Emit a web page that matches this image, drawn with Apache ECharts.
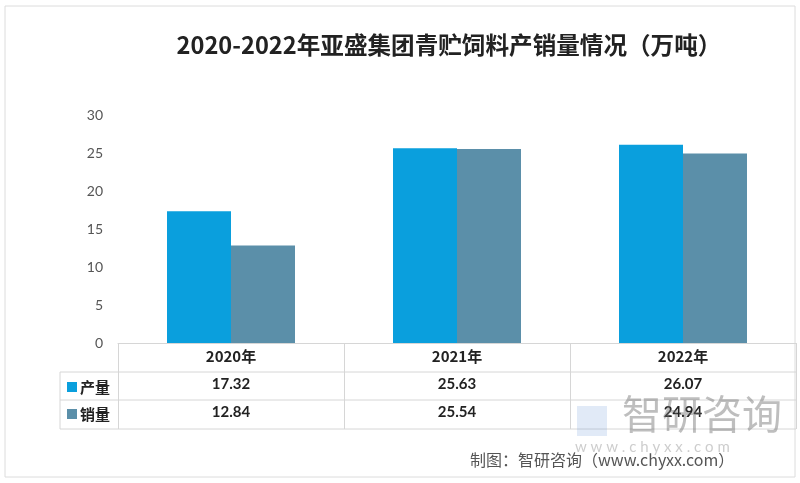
<!DOCTYPE html>
<html>
<head>
<meta charset="utf-8">
<script src="https://cdn.jsdelivr.net/npm/echarts@6/dist/echarts.min.js"></script>
<style>
  html, body { margin: 0; padding: 0; background: #fff; }
  #chart { width: 800px; height: 483px; }
</style>
</head>
<body>
<div id="chart"></div>
<script>
const years = ['2020年', '2021年', '2022年']
const output = [17.32, 25.63, 26.07]
const sales = [12.84, 25.54, 24.94]
const seriesNames = ['产量', '销量']
const yTicks = { min: 0, max: 30, interval: 5 }

const chart = echarts.init(document.getElementById('chart'))
const lineColor = '#d6d6d6'
const cjk = '"Noto Sans CJK SC", sans-serif'

const option = {
  backgroundColor: '#fff',
  title: {
    text: '2020-2022年亚盛集团青贮饲料产销量情况（万吨）',
    left: 444,
    textAlign: 'center',
    top: 28,
    textStyle: { fontSize: 23.6, fontWeight: 'bold', color: '#222', fontFamily: cjk }
  },
  legend: {
    orient: 'vertical',
    left: 62,
    top: 373,
    itemGap: 9,
    itemWidth: 10,
    itemHeight: 10,
    icon: 'rect',
    selectedMode: false,
    textStyle: { fontSize: 15, fontWeight: 'bold', color: '#222', fontFamily: cjk, lineHeight: 18, padding: [0, 0, 0, -2] },
    data: seriesNames
  },
  grid: { left: 118, right: 4, top: 115, bottom: 140 },
  xAxis: {
    type: 'category',
    data: years,
    axisLine: { lineStyle: { color: lineColor, width: 1 } },
    axisTick: { show: true, length: 86, lineStyle: { color: lineColor } },
    axisLabel: {
      margin: 0,
      formatter: (v, i) => `{y|${v}}\n{v|${output[i].toFixed(2)}}\n{v|${sales[i].toFixed(2)}}`,
      rich: {
        y: { fontSize: 15, fontWeight: 'bold', color: '#222', lineHeight: 27.5, fontFamily: cjk },
        v: { fontSize: 15, fontWeight: 'bold', color: '#222', lineHeight: 27.5, fontFamily: 'Lato, sans-serif' }
      }
    }
  },
  yAxis: {
    type: 'value',
    min: yTicks.min,
    max: yTicks.max,
    interval: yTicks.interval,
    axisLine: { show: false },
    axisTick: { show: false },
    splitLine: { show: false },
    axisLabel: { margin: 15, fontSize: 14, color: '#555', fontFamily: 'Lato, sans-serif' }
  },
  series: [
    {
      name: seriesNames[0],
      type: 'bar',
      data: output,
      barWidth: 64,
      barGap: '0%',
      itemStyle: { color: '#0a9fdd' }
    },
    {
      name: seriesNames[1],
      type: 'bar',
      data: sales,
      barWidth: 64,
      itemStyle: { color: '#5b8fa9' }
    }
  ],
  graphic: [
    // outer frame
    { type: 'rect', shape: { x: 5, y: 6, width: 790, height: 471 }, style: { fill: 'none', stroke: '#dcdcdc', lineWidth: 1 }, silent: true },
    // table rows
    { type: 'line', shape: { x1: 60, y1: 372, x2: 796, y2: 372 }, style: { stroke: lineColor, lineWidth: 1 } },
    { type: 'line', shape: { x1: 60, y1: 400, x2: 796, y2: 400 }, style: { stroke: lineColor, lineWidth: 1 } },
    { type: 'line', shape: { x1: 60, y1: 429, x2: 796, y2: 429 }, style: { stroke: lineColor, lineWidth: 1 } },
    { type: 'line', shape: { x1: 60, y1: 372, x2: 60, y2: 429 }, style: { stroke: lineColor, lineWidth: 1 } },
    // watermark
    { type: 'rect', shape: { x: 577, y: 406, width: 30, height: 30 }, style: { fill: 'rgba(120,160,220,0.22)' }, silent: true },
    { type: 'text', left: 622, top: 394, style: { text: '智研咨询', fontSize: 40, fill: 'rgba(110,110,110,0.45)', fontFamily: cjk }, silent: true, z: 10 },
    { type: 'text', left: 575, top: 440, style: { text: 'w w w . c h y x x . c o m', fontSize: 15, fill: 'rgba(130,130,130,0.4)', fontFamily: 'Lato, sans-serif' }, silent: true, z: 10 },
    // source
    { type: 'text', left: 470, top: 452, style: { text: '制图：智研咨询（www.chyxx.com）', fontSize: 16, fill: '#555', fontFamily: cjk } }
  ]
}

chart.setOption(option)
</script>
</body>
</html>
